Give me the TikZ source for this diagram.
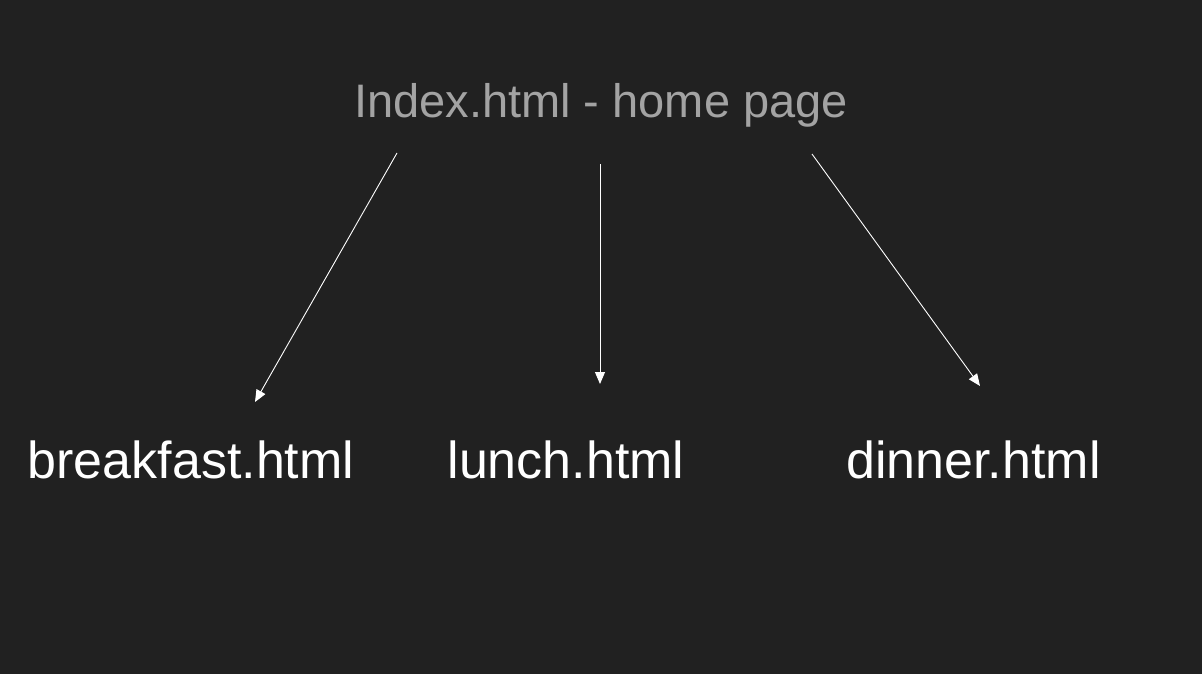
\documentclass[tikz,border=0pt]{standalone}
\usepackage{fontspec}
\setmainfont{Liberation Sans}
\usetikzlibrary{arrows.meta}
\definecolor{bg}{HTML}{212121}
\definecolor{titlegray}{HTML}{A3A3A3}
\tikzset{
  page/.style={inner sep=0pt, anchor=base, text=white, font=\fontsize{52}{60}\selectfont},
  titletext/.style={inner sep=0pt, anchor=base, text=titlegray, font=\fontsize{47}{56}\selectfont},
  link/.style={draw=white, line width=0.9pt, -{Triangle[length=12pt,width=10pt]}}
}
\begin{document}
\begin{tikzpicture}[x=1pt,y=-1pt]
\fill[bg] (0,0) rectangle (1202,674);
\useasboundingbox (0,0) rectangle (1202,674);
\node[titletext] (index) at (601,118) {Index.html - home page};
\node[page] (breakfast) at (191,478) {breakfast.html};
\node[page] (lunch) at (566,478) {lunch.html};
\node[page] (dinner) at (973.5,478) {dinner.html};
\coordinate (s1) at (397,153);
\coordinate (e1) at (255,402);
\coordinate (s2) at (600,164);
\coordinate (e2) at (600,384);
\coordinate (s3) at (812,154);
\coordinate (e3) at (980,386);
\draw[link] (s1) -- (e1);
\draw[link] (s2) -- (e2);
\draw[link] (s3) -- (e3);
\end{tikzpicture}
\end{document}
